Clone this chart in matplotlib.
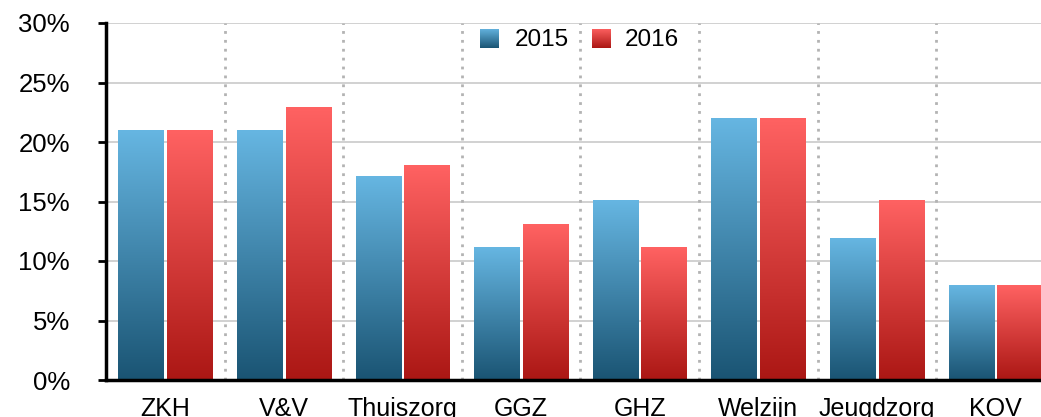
import numpy as np
import matplotlib
matplotlib.use('Agg')
import matplotlib.pyplot as plt
from matplotlib.colors import LinearSegmentedColormap

plt.rcParams['font.family'] = ['Liberation Sans', 'DejaVu Sans']

categories = ['ZKH', 'V&V', 'Thuiszorg', 'GGZ', 'GHZ', 'Welzijn', 'Jeugdzorg', 'KOV']
years = ['2015', '2016']
values_2015 = [21, 21, 17.1, 11.1, 15.1, 22, 11.9, 7.9]
values_2016 = [21, 22.9, 18, 13.1, 11.1, 22, 15.1, 7.9]
yticks = [0, 5, 10, 15, 20, 25, 30]

blue_map = LinearSegmentedColormap.from_list('b', ['#1a5473', '#66b6e2'])
red_map = LinearSegmentedColormap.from_list('r', ['#ab1714', '#ff6262'])
grad = np.linspace(0, 1, 256).reshape(-1, 1)

fig = plt.figure(figsize=(10.41, 4.17), dpi=100)
ax = fig.add_axes([106 / 1041, 37 / 417, 948.8 / 1041, 357 / 417])

n = len(categories)
x = np.arange(n)
bw = 0.38
offs = [-0.205, 0.205]

def grad_bar(ax, xc, h, cmap):
    ax.imshow(grad, cmap=cmap, origin='lower', aspect='auto',
              extent=[xc - bw / 2, xc + bw / 2, 0, h], zorder=3,
              interpolation='bicubic')

for i in range(n):
    grad_bar(ax, x[i] + offs[0], values_2015[i], blue_map)
    grad_bar(ax, x[i] + offs[1], values_2016[i], red_map)

ax.set_xlim(-0.5, n - 0.5)
ax.set_ylim(0, 30)

for yv in yticks[1:]:
    ax.axhline(yv, color='#c9c9c9', lw=1.2, zorder=1)
for b in np.arange(0.5, n - 0.5, 1):
    ax.axvline(b, color='#b3b3b3', lw=2, ls=(0, (1, 2.2)), zorder=1)

ax.set_yticks(yticks)
ax.set_yticklabels([f'{v}%' for v in yticks], fontsize=18.5)
ax.set_xticks(x)
ax.set_xticklabels(categories, fontsize=18)
ax.tick_params(axis='x', length=0, pad=12)
ax.tick_params(axis='y', length=6, width=2, pad=20, direction='out')

for s in ['top', 'right']:
    ax.spines[s].set_visible(False)
ax.spines['left'].set_linewidth(2.5)
ax.spines['bottom'].set_linewidth(2.5)
ax.spines['bottom'].set_zorder(5)

# legend
fig.add_axes([480 / 1041, 1 - 48 / 417, 19 / 1041, 19 / 417]).imshow(
    grad, cmap=blue_map, origin='lower', aspect='auto')
fig.axes[-1].axis('off')
fig.text(515 / 1041, 1 - 40 / 417, years[0], fontsize=17.5, va='center')
fig.add_axes([592 / 1041, 1 - 48 / 417, 19 / 1041, 19 / 417]).imshow(
    grad, cmap=red_map, origin='lower', aspect='auto')
fig.axes[-1].axis('off')
fig.text(625 / 1041, 1 - 40 / 417, years[1], fontsize=17.5, va='center')

fig.savefig('out.png', dpi=100)
